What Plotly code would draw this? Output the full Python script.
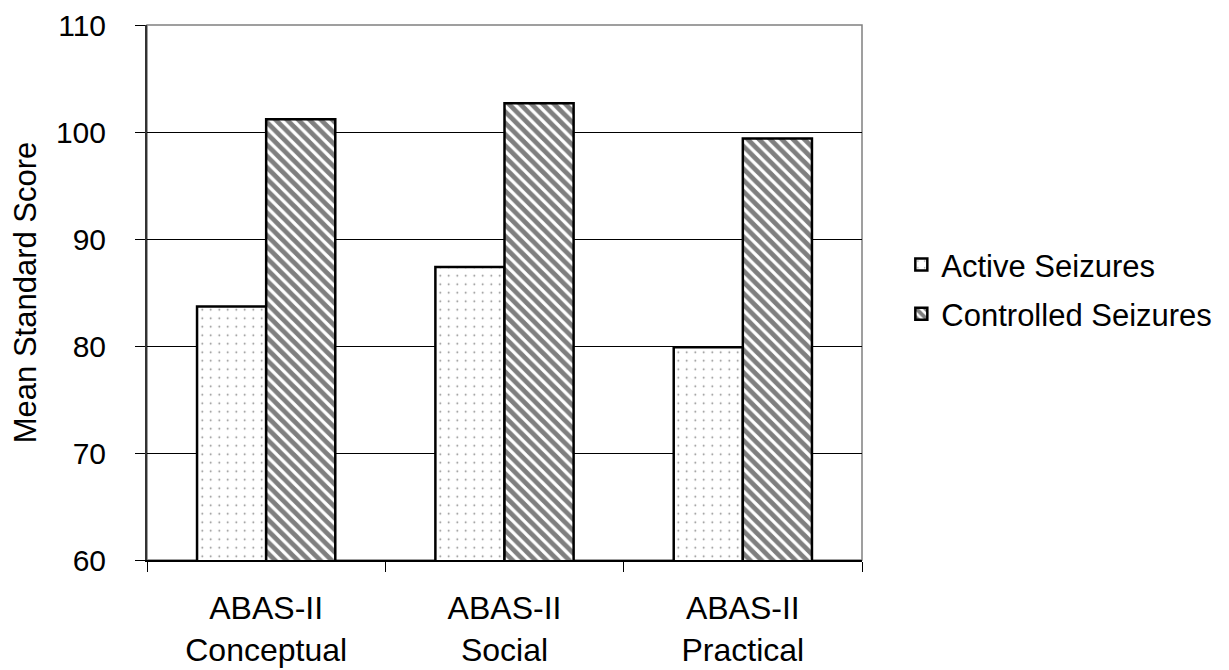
import plotly.graph_objects as go

categories = ["ABAS-II<br>Conceptual", "ABAS-II<br>Social", "ABAS-II<br>Practical"]
active = [83.7, 87.4, 79.9]
controlled = [101.2, 102.7, 99.4]
series_names = ["Active Seizures", "Controlled Seizures"]
y_ticks = [60, 70, 80, 90, 100, 110]

fig = go.Figure()
fig.add_trace(go.Bar(
    x=categories, y=active, name=series_names[0], legendgroup="a",
    marker=dict(color="white", line=dict(color="black", width=2.5),
                pattern=dict(shape=".", fgcolor="black", bgcolor="white", size=8.5, solidity=0.03)),
))
fig.add_trace(go.Bar(
    x=categories, y=controlled, name=series_names[1], legendgroup="b",
    marker=dict(color="white", line=dict(color="black", width=2.5),
                pattern=dict(shape="\\", fgcolor="black", bgcolor="white", size=8, solidity=0.6)),
))

font = "Liberation Sans, Arial, sans-serif"
fig.update_layout(
    width=1221, height=662,
    margin=dict(l=139, r=367, t=17, b=110, autoexpand=False),
    paper_bgcolor="white", plot_bgcolor="white",
    barmode="group", bargap=0.42, bargroupgap=0,
    font=dict(family=font, size=31, color="black"),
    showlegend=True,
    legend=dict(x=1.055, y=0.506, xanchor="left", yanchor="middle",
                font=dict(family=font, size=31, color="black"),
                itemwidth=30, tracegroupgap=6, bgcolor="rgba(0,0,0,0)"),
    xaxis=dict(showline=True, linecolor="black", linewidth=1.5, automargin=False,
               ticks="outside", tickson="boundaries", ticklen=10, tickcolor="black",
               tickfont=dict(size=32), showgrid=False, ticklabelstandoff=19),
    yaxis=dict(range=[60, 110.02], tickvals=y_ticks, showline=True, linecolor="#333333", linewidth=2,
               automargin=False,
               ticks="outside", ticklen=10, tickcolor="black",
               showgrid=True, gridcolor="black", gridwidth=1,
               tickfont=dict(size=30), ticklabelstandoff=23, ticklabeloverflow="allow",
               title=dict(text="Mean Standard Score", font=dict(size=31), standoff=14)),
    shapes=[dict(type="rect", xref="x domain", yref="y domain", x0=0, x1=1, y0=0, y1=1,
                 line=dict(color="#808080", width=1.5), layer="below")],
)

fig.write_html("out.html")
